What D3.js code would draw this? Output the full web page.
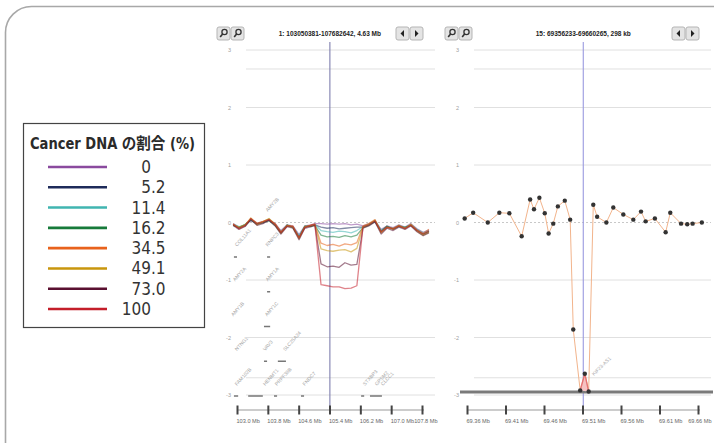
<!DOCTYPE html>
<html>
<head>
<meta charset="utf-8">
<script src="https://cdn.jsdelivr.net/npm/d3@7"></script>
<style>
  html, body { margin: 0; padding: 0; background: #fff; }
  svg { display: block; }
</style>
</head>
<body>
<div id="chart-area"></div>
<script>
// legend / series
const fractions = ['0', '5.2', '11.4', '16.2', '34.5', '49.1', '73.0', '100'];
const seriesColors = ['#8a4a9e', '#1e2b5a', '#40b5b0', '#177a3a', '#e8621c', '#c8960c', '#5a1030', '#c41e2a'];

// left panel: chr1 positions (Mb) and log2 ratio per cancer fraction
const leftPos = [102.90, 103.05, 103.21, 103.36, 103.52, 103.67, 103.83, 103.99, 104.14, 104.30, 104.45, 104.61, 104.76, 104.92, 105.02,
  105.18, 105.34, 105.49, 105.65, 105.80, 105.96, 106.11,
  106.27, 106.42, 106.58, 106.74, 106.89, 107.05, 107.20, 107.36, 107.51, 107.67, 107.83, 107.98];
const left0   = [-0.02,-0.08,-0.04,0.04,-0.03,0.01,0.04,-0.02,-0.14,-0.04,-0.06,-0.21,-0.06,-0.04,-0.02, -0.02,-0.03,-0.02,-0.03,-0.02,-0.04,-0.03, -0.06,-0.02,0.03,-0.12,-0.06,-0.09,-0.04,-0.08,-0.02,-0.11,-0.17,-0.13];
const left5   = [-0.04,-0.10,-0.05,0.06,-0.02,-0.01,0.05,-0.04,-0.17,-0.05,-0.08,-0.25,-0.08,-0.05,-0.04, -0.08,-0.10,-0.09,-0.11,-0.10,-0.09,-0.08, -0.08,-0.04,0.02,-0.15,-0.07,-0.11,-0.06,-0.10,-0.04,-0.13,-0.20,-0.15];
const left11  = [-0.03,-0.07,-0.06,0.05,-0.01,0.01,0.06,-0.03,-0.15,-0.06,-0.07,-0.23,-0.07,-0.06,-0.03, -0.14,-0.16,-0.17,-0.15,-0.16,-0.18,-0.14, -0.07,-0.03,0.04,-0.13,-0.08,-0.10,-0.05,-0.09,-0.03,-0.12,-0.18,-0.14];
const left16  = [-0.05,-0.09,-0.03,0.04,-0.03,0.00,0.03,-0.05,-0.18,-0.04,-0.09,-0.26,-0.06,-0.07,-0.05, -0.22,-0.25,-0.24,-0.26,-0.23,-0.25,-0.22, -0.09,-0.05,0.02,-0.16,-0.06,-0.12,-0.07,-0.08,-0.05,-0.14,-0.21,-0.16];
const left34  = [-0.02,-0.11,-0.06,0.07,-0.01,0.02,0.06,-0.02,-0.16,-0.06,-0.06,-0.27,-0.09,-0.04,-0.03, -0.36,-0.40,-0.38,-0.41,-0.37,-0.39,-0.35, -0.06,-0.02,0.05,-0.17,-0.09,-0.10,-0.06,-0.11,-0.03,-0.13,-0.19,-0.12];
const left49  = [-0.04,-0.08,-0.04,0.08,-0.04,0.01,0.07,-0.04,-0.19,-0.05,-0.08,-0.28,-0.07,-0.06,-0.04, -0.46,-0.49,-0.50,-0.48,-0.47,-0.51,-0.45, -0.08,-0.03,0.04,-0.18,-0.08,-0.12,-0.05,-0.10,-0.04,-0.15,-0.22,-0.17];
const left73  = [-0.05,-0.12,-0.07,0.05,-0.05,-0.02,0.04,-0.06,-0.20,-0.07,-0.10,-0.30,-0.10,-0.07,-0.05, -0.72,-0.77,-0.76,-0.78,-0.70,-0.74,-0.73, -0.10,-0.06,0.01,-0.20,-0.10,-0.14,-0.08,-0.12,-0.06,-0.16,-0.23,-0.18];
const left100 = [-0.03,-0.10,-0.05,0.07,-0.02,0.01,0.05,-0.03,-0.17,-0.06,-0.07,-0.26,-0.08,-0.05,-0.03, -1.08,-1.10,-1.12,-1.12,-1.15,-1.14,-1.10, -0.07,-0.04,0.03,-0.16,-0.08,-0.11,-0.06,-0.10,-0.05,-0.14,-0.20,-0.15];
const leftSeries = [left0, left5, left11, left16, left34, left49, left73, left100];

// right panel: chr15 positions (Mb) and log2 ratio
const rightPos = [69.357, 69.368, 69.387, 69.402, 69.415, 69.431, 69.442, 69.447, 69.454, 69.461, 69.466, 69.472, 69.478, 69.487, 69.494,
  69.498, 69.507, 69.513, 69.518,
  69.524, 69.529, 69.541, 69.550, 69.563, 69.576, 69.586, 69.592, 69.604, 69.618, 69.624, 69.638, 69.646, 69.653, 69.665];
const rightVal = [0.07, 0.17, 0.00, 0.17, 0.16, -0.24, 0.40, 0.23, 0.43, 0.16, -0.19, -0.02, 0.28, 0.38, 0.05,
  -1.86, -2.92, -2.63, -2.94,
  0.31, 0.10, 0.00, 0.26, 0.14, 0.05, 0.19, 0.02, 0.07, -0.17, 0.17, -0.02, -0.03, -0.02, 0.00];

// axes
const yTicks = [3, 2, 1, 0, -1, -2, -3];
const yGrid = [3, 2.67, 2, 1, -1, -2, -2.7, -3];
const leftTicks = [103.0, 103.8, 104.6, 105.4, 106.2, 107.0, 107.8];
const rightTicks = [69.36, 69.41, 69.46, 69.51, 69.56, 69.61, 69.66];
const leftTitle = '1: 103050381-107682642, 4.63 Mb';
const rightTitle = '15: 69356233-69660265, 298 kb';
const leftCursor = 105.41;
const rightCursor = 69.511;

// gene annotation track (left panel)
const geneNames = ['AMY2B', 'COL11A1', 'RNPC3', 'AMY2A', 'AMY1A', 'AMY1B', 'AMY1C', 'NTNG1', 'VAV3', 'SLC25A24', 'FAM102B', 'HENMT1', 'PRPF38B', 'FNDC7', 'STXBP3', 'GPSM2', 'CLCC1'];
const geneStart = [103.80, 103.00, 103.80, 102.95, 103.80, 102.90, 103.78, 103.00, 103.73, 104.25, 103.00, 103.73, 104.04, 104.76, 106.32, 106.63, 106.79];
const geneRow = [0, 1, 1, 2, 2, 3, 3, 4, 4, 4, 5, 5, 5, 5, 5, 5, 5];
const barStart = [102.92, 103.78, 103.78, 103.70, 103.70, 104.06, 102.92, 103.29, 103.96, 104.66, 106.22, 106.45];
const barEnd   = [103.00, 103.86, 103.86, 103.86, 103.78, 104.27, 103.03, 103.67, 104.04, 104.74, 106.30, 106.76];
const barRow   = [0, 0, 1, 2, 3, 3, 4, 4, 4, 4, 4, 4];
const rightGene = 'KIF23-AS1';

const width = 714, height = 443;
const svg = d3.select('#chart-area').append('svg')
  .attr('width', width).attr('height', height);

// outer rounded frame
svg.append('rect')
  .attr('x', 5.5).attr('y', 6.5)
  .attr('width', 760).attr('height', 480)
  .attr('rx', 26)
  .attr('fill', 'none')
  .attr('stroke', '#a8a8a8')
  .attr('stroke-width', 1.6);

const yScale = d3.scaleLinear().domain([-3, 3]).range([395, 50]);
const xLeft = d3.scaleLinear().domain([103.0, 107.8]).range([237, 422]);
const xRight = d3.scaleLinear().domain([69.36, 69.66]).range([467, 698]);

const defs = svg.append('defs');
defs.append('clipPath').attr('id', 'clipL').append('rect')
  .attr('x', 231).attr('y', 40).attr('width', 200).attr('height', 400);
defs.append('clipPath').attr('id', 'clipR').append('rect')
  .attr('x', 459).attr('y', 40).attr('width', 254).attr('height', 400);

function drawPanel(opts) {
  const { x, x0, x1, clip, ticks, fmt, title, cursor, cursorColor, labelX, lastShift } = opts;
  const g = svg.append('g');

  // toolbar
  const btn = g.append('g');
  const bx = [x0 - 14, x0];
  bx.forEach((b) => {
    btn.append('rect').attr('x', b).attr('y', 27).attr('width', 13).attr('height', 13)
      .attr('rx', 2).attr('fill', '#e4e4e4').attr('stroke', '#b5b5b5');
    btn.append('circle').attr('cx', b + 7.5).attr('cy', 32).attr('r', 2.6)
      .attr('fill', 'none').attr('stroke', '#333').attr('stroke-width', 1.3);
    btn.append('line').attr('x1', b + 5.6).attr('y1', 34).attr('x2', b + 3.2).attr('y2', 37)
      .attr('stroke', '#333').attr('stroke-width', 1.6);
  });
  const ax = [x1 - 34, x1 - 20];
  ax.forEach((b, i) => {
    btn.append('rect').attr('x', b).attr('y', 27).attr('width', 13).attr('height', 13)
      .attr('rx', 2).attr('fill', '#e4e4e4').attr('stroke', '#b5b5b5');
    const pts = i === 0
      ? [[b + 8, 30], [b + 8, 37], [b + 4.5, 33.5]]
      : [[b + 5, 30], [b + 5, 37], [b + 8.5, 33.5]];
    btn.append('path').attr('d', d3.line()(pts) + 'Z').attr('fill', '#222');
  });
  g.append('text')
    .attr('x', x(cursor)).attr('y', 36)
    .attr('text-anchor', 'middle')
    .attr('font-family', 'Liberation Sans, Arial, sans-serif')
    .attr('font-size', 6.5).attr('font-weight', 'bold').attr('fill', '#222')
    .text(title);

  // grid
  g.selectAll('line.grid')
    .data(yGrid)
    .join('line')
    .attr('class', 'grid')
    .attr('x1', x0 + 15).attr('x2', x1 + 5)
    .attr('y1', (d) => yScale(d)).attr('y2', (d) => yScale(d))
    .attr('stroke', '#e0e0e0').attr('stroke-width', 1);
  g.append('line')
    .attr('x1', x0 + 15).attr('x2', x1 + 5)
    .attr('y1', yScale(0)).attr('y2', yScale(0))
    .attr('stroke', '#c8c8c8').attr('stroke-dasharray', '2,2');

  // y labels
  g.selectAll('text.ylab')
    .data(yTicks)
    .join('text')
    .attr('class', 'ylab')
    .attr('x', labelX).attr('y', (d) => yScale(d) + 2)
    .attr('text-anchor', 'end')
    .attr('font-family', 'Liberation Sans, Arial, sans-serif')
    .attr('font-size', 5.5).attr('fill', '#a0a0a0')
    .text((d) => d);

  // cursor line
  g.append('line')
    .attr('x1', x(cursor)).attr('x2', x(cursor))
    .attr('y1', 42).attr('y2', 414)
    .attr('stroke', cursorColor).attr('stroke-width', 1.1);

  // bottom axis
  const axis = d3.axisBottom(x).tickValues(ticks).tickFormat(fmt).tickSize(0).tickPadding(8);
  const ag = g.append('g').attr('transform', 'translate(0,410)').call(axis);
  ag.select('.domain').attr('stroke', '#999').attr('d', `M${x(ticks[0])},0H${x(ticks[ticks.length - 1]) + 2}`);
  ag.selectAll('.tick').append('rect')
    .attr('x', -1).attr('y', -4.5).attr('width', 2).attr('height', 9).attr('fill', '#444');
  ag.selectAll('.tick text')
    .attr('text-anchor', (d, i) => (i === ticks.length - 1 ? 'end' : 'start'))
    .attr('x', (d, i) => (i === ticks.length - 1 ? lastShift : -1))
    .attr('dy', '0.9em')
    .attr('font-family', 'Liberation Sans, Arial, sans-serif')
    .attr('font-size', 5.6).attr('fill', '#666');

  const plot = g.append('g').attr('clip-path', `url(#${clip})`);
  return plot;
}

// left panel
const plotL = drawPanel({
  x: xLeft, x0: 231, x1: 430, clip: 'clipL', ticks: leftTicks,
  fmt: (d) => `${d.toFixed(1)} Mb`, title: leftTitle, cursor: leftCursor,
  cursorColor: '#7f7fae', labelX: 231, lastShift: 15
});

// gene annotation
const geneRowY = d3.scalePoint().domain(d3.range(6)).range([212, 386]);
const barRowY = d3.scalePoint().domain(d3.range(5)).range([257, 396]);
plotL.selectAll('text.gene')
  .data(geneNames)
  .join('text')
  .attr('class', 'gene')
  .attr('transform', (d, i) => `translate(${xLeft(geneStart[i])},${geneRowY(geneRow[i])}) rotate(-48)`)
  .attr('font-family', 'Liberation Sans, Arial, sans-serif')
  .attr('font-size', 5).attr('fill', '#a8a8a8')
  .text((d) => d);
plotL.selectAll('rect.bar')
  .data(barStart)
  .join('rect')
  .attr('class', 'bar')
  .attr('x', (d) => xLeft(d))
  .attr('width', (d, i) => Math.max(2, xLeft(barEnd[i]) - xLeft(d)))
  .attr('y', (d, i) => barRowY(barRow[i]) - 0.75)
  .attr('height', 1.5)
  .attr('fill', '#777');

// copy-number lines
const lineL = d3.line()
  .x((d, i) => xLeft(leftPos[i]))
  .y((d) => yScale(d))
  .curve(d3.curveLinear);
plotL.selectAll('path.cn')
  .data(leftSeries)
  .join('path')
  .attr('class', 'cn')
  .attr('d', lineL)
  .attr('fill', 'none')
  .attr('stroke', (d, i) => seriesColors[i])
  .attr('stroke-opacity', 0.55)
  .attr('stroke-width', 1.3)
  .attr('stroke-linejoin', 'round');

// right panel
const plotR = drawPanel({
  x: xRight, x0: 459, x1: 706, clip: 'clipR', ticks: rightTicks,
  fmt: (d) => `${d.toFixed(2)} Mb`, title: rightTitle, cursor: rightCursor,
  cursorColor: '#9a9ae0', labelX: 459, lastShift: 13
});

// gene track spanning the view
plotR.append('line')
  .attr('x1', 460).attr('x2', 713)
  .attr('y1', 392).attr('y2', 392)
  .attr('stroke', '#7a7a7a').attr('stroke-width', 3);
plotR.append('text')
  .attr('transform', `translate(${xRight(69.525)},376) rotate(-45)`)
  .attr('font-family', 'Liberation Sans, Arial, sans-serif')
  .attr('font-size', 5).attr('fill', '#aaa')
  .text(rightGene);

const lineR = d3.line()
  .x((d, i) => xRight(rightPos[i]))
  .y((d) => yScale(d));
plotR.append('path')
  .datum(rightVal)
  .attr('d', lineR)
  .attr('fill', 'none')
  .attr('stroke', '#f2b48c')
  .attr('stroke-width', 1);
// deleted segment highlight
const lowIdx = [16, 17, 18];
plotR.append('path')
  .datum(lowIdx)
  .attr('d', d3.line().x((i) => xRight(rightPos[i])).y((i) => yScale(rightVal[i])))
  .attr('fill', '#f6c2c2')
  .attr('stroke', '#e57373')
  .attr('stroke-width', 1.4);
plotR.selectAll('circle.pt')
  .data(rightVal)
  .join('circle')
  .attr('class', 'pt')
  .attr('cx', (d, i) => xRight(rightPos[i]))
  .attr('cy', (d) => yScale(d))
  .attr('r', 2.2)
  .attr('fill', '#333');

// legend
const legendFont = "'DejaVu Sans Condensed', 'Noto Sans CJK JP', sans-serif";
const lg = svg.append('g');
lg.append('rect')
  .attr('x', 23.5).attr('y', 123.5).attr('width', 181).attr('height', 204)
  .attr('fill', '#fff').attr('stroke', '#444').attr('stroke-width', 1.2);
lg.append('text')
  .attr('x', 30).attr('y', 149)
  .attr('font-family', legendFont)
  .attr('font-size', 16).attr('font-weight', 'bold').attr('fill', '#2a2a2a')
  .attr('textLength', 165).attr('lengthAdjust', 'spacingAndGlyphs')
  .text('Cancer DNA の割合 (%)');
const rowY = d3.scalePoint().domain(fractions).range([167, 309]);
const rows = lg.selectAll('g.row').data(fractions).join('g').attr('class', 'row');
rows.append('line')
  .attr('x1', 48).attr('x2', 107)
  .attr('y1', (d) => rowY(d)).attr('y2', (d) => rowY(d))
  .attr('stroke', (d, i) => seriesColors[i])
  .attr('stroke-width', 2.6);
rows.append('text')
  .attr('x', 151).attr('y', (d) => rowY(d) + 6)
  .attr('text-anchor', 'end')
  .attr('font-family', legendFont)
  .attr('font-size', 17).attr('fill', '#333')
  .text((d) => d.split('.')[0]);
rows.filter((d) => d.includes('.')).append('text')
  .attr('x', 151).attr('y', (d) => rowY(d) + 6)
  .attr('font-family', legendFont)
  .attr('font-size', 17).attr('fill', '#333')
  .text((d) => '.' + d.split('.')[1]);
</script>
</body>
</html>
